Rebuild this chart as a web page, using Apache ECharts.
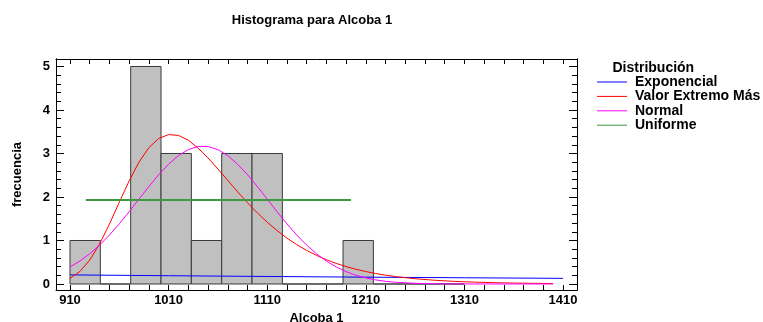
<!DOCTYPE html>
<html><head><meta charset="utf-8">
<script src="https://cdn.jsdelivr.net/npm/echarts@6/dist/echarts.min.js"></script>
<style>html,body{margin:0;padding:0;background:#fff}#c{width:763px;height:322px}</style>
</head><body><div id="c"></div>
<script>
// Histogram bins (13 classes from 910 to 1310)
const binEdges = [910, 940.77, 971.54, 1002.31, 1033.08, 1063.85, 1094.62, 1125.38, 1156.15, 1186.92, 1217.69, 1248.46, 1279.23, 1310];
const binCounts = [1, 0, 5, 3, 1, 3, 3, 0, 0, 1, 0, 0, 0];

// Fitted curves
const curveX = [910,920,930,940,950,960,970,980,990,1000,1010,1020,1030,1040,1050,1060,1070,1080,1090,1100,1110,1120,1130,1140,1150,1160,1170,1180,1190,1200,1210,1220,1230,1240,1260,1280,1300,1320,1340,1360,1380,1400];
const extremoY = [0.129,0.288,0.550,0.920,1.377,1.880,2.371,2.802,3.134,3.345,3.435,3.415,3.305,3.122,2.898,2.644,2.381,2.120,1.869,1.635,1.421,1.228,1.055,0.904,0.772,0.657,0.558,0.473,0.401,0.339,0.286,0.241,0.203,0.171,0.121,0.086,0.060,0.043,0.030,0.021,0.015,0.011];
const normalY = [0.392,0.527,0.695,0.894,1.125,1.383,1.662,1.952,2.241,2.513,2.754,2.951,3.089,3.161,3.161,3.089,2.951,2.754,2.513,2.241,1.952,1.662,1.383,1.125,0.894,0.695,0.527,0.392,0.284,0.201,0.139,0.094,0.062,0.040,0.016,0.006,0.002,0.001,0,0,0,0];
const expX = [910, 1010, 1110, 1210, 1310, 1410];
const expY = [0.209, 0.190, 0.173, 0.157, 0.143, 0.130];
const uniX = [926, 1195];
const uniY = [1.93, 1.93];

// Ticks
const xTicks = [910, 1010, 1110, 1210, 1310, 1410];
const xMinor = [930,950,970,990,1030,1050,1070,1090,1130,1150,1170,1190,1230,1250,1270,1290,1330,1350,1370,1390];
const yTicks = [0, 1, 2, 3, 4, 5];
const yMinor = [0.2,0.4,0.6,0.8,1.2,1.4,1.6,1.8,2.2,2.4,2.6,2.8,3.2,3.4,3.6,3.8,4.2,4.4,4.6,4.8];

const seriesNames = ['Exponencial', 'Valor Extremo Más Grande', 'Normal', 'Uniforme'];
const titleText = 'Histograma para Alcoba 1';
const legendTitle = 'Distribución';
const xName = 'Alcoba 1';
const yName = 'frecuencia';

const FF = '"Liberation Sans", Arial, sans-serif';
const X_MIN = 895.8, X_MAX = 1424.2, Y_MIN = -0.138, Y_MAX = 5.172;
const xTickAll = xTicks.concat(xMinor).sort((a, b) => a - b);
const zip = (xs, ys) => xs.map((x, i) => [x, ys[i]]);
const txt = { color: '#000', fontFamily: FF, fontWeight: 'bold', fontSize: 13 };
const plain = v => String(Math.round(v));

function yAx(pos, vals, len, labels) {
  return {
    type: 'value', position: pos, min: Y_MIN, max: Y_MAX,
    axisLine: { show: true, onZero: false, lineStyle: { color: '#000', width: 1 } },
    axisTick: { show: true, inside: true, length: len, customValues: vals, lineStyle: { color: '#000' } },
    axisLabel: labels ? Object.assign({ show: true, customValues: yTicks, margin: 6, formatter: plain }, txt) : { show: false },
    splitLine: { show: false },
    name: labels ? yName : '', nameLocation: 'middle', nameGap: 32, nameTextStyle: txt
  };
}
function xAx(pos, labels) {
  return {
    type: 'value', position: pos, min: X_MIN, max: X_MAX,
    axisLine: { show: true, onZero: false, lineStyle: { color: '#000', width: 1 } },
    axisTick: { show: true, inside: true, length: 5, customValues: xTickAll, lineStyle: { color: '#000' } },
    axisLabel: labels ? Object.assign({ show: true, customValues: xTicks, margin: 4, formatter: plain }, txt) : { show: false },
    splitLine: { show: false },
    name: labels ? xName : '', nameLocation: 'middle', nameGap: 19, nameTextStyle: txt
  };
}

const chart = echarts.init(document.getElementById('c'), null, { renderer: 'canvas' });
const lineS = (name, data, color, w) => ({
  type: 'line', name, data, showSymbol: false, symbol: 'none', smooth: false,
  lineStyle: { color, width: w }, itemStyle: { color }, emphasis: { disabled: true },
  xAxisIndex: 0, yAxisIndex: 0, z: 3
});

chart.setOption({
  animation: false,
  grid: { left: 56, right: 186, top: 59, bottom: 32, containLabel: false, outerBoundsMode: 'none' },
  xAxis: [xAx('bottom', true), xAx('top', false)],
  yAxis: [yAx('left', yTicks, 8, true), yAx('left', yMinor, 5, false), yAx('right', yTicks, 8, false), yAx('right', yMinor, 5, false)],
  graphic: [
    { type: 'text', x: 312, y: 20, style: { text: titleText, fill: '#000', font: 'bold 13px ' + FF, textAlign: 'center', textVerticalAlign: 'middle' } },
    { type: 'text', x: 612.5, y: 68, style: { text: legendTitle, fill: '#000', font: 'bold 14px ' + FF, textAlign: 'left', textVerticalAlign: 'middle' } }
  ],
  legend: {
    orient: 'vertical', left: 597, top: 75, padding: 0, icon: 'rect',
    itemWidth: 30, itemHeight: 1, itemGap: 0.4, selectedMode: false,
    textStyle: Object.assign({}, txt, { fontSize: 14, lineHeight: 14, padding: [0, 0, 0, 3] }),
    data: seriesNames
  },
  series: [
    {
      type: 'custom', name: 'hist', z: 2,
      data: binCounts.map((c, i) => [binEdges[i], binEdges[i + 1], c]),
      encode: { x: [0, 1], y: 2 },
      renderItem: function (params, api) {
        const p0 = api.coord([api.value(0), 0]);
        const p1 = api.coord([api.value(1), api.value(2)]);
        return {
          type: 'rect',
          shape: { x: p0[0], y: p1[1], width: p1[0] - p0[0], height: p0[1] - p1[1] },
          style: { fill: '#c0c0c0', stroke: '#3a3a3a', lineWidth: 1 }
        };
      }
    },
    lineS(seriesNames[0], zip(expX, expY), '#0000ff', 1),
    lineS(seriesNames[1], zip(curveX, extremoY), '#ff0000', 1),
    lineS(seriesNames[2], zip(curveX, normalY), '#ff00ff', 1),
    lineS(seriesNames[3], zip(uniX, uniY), '#3f993f', 2)
  ]
});
</script></body></html>
